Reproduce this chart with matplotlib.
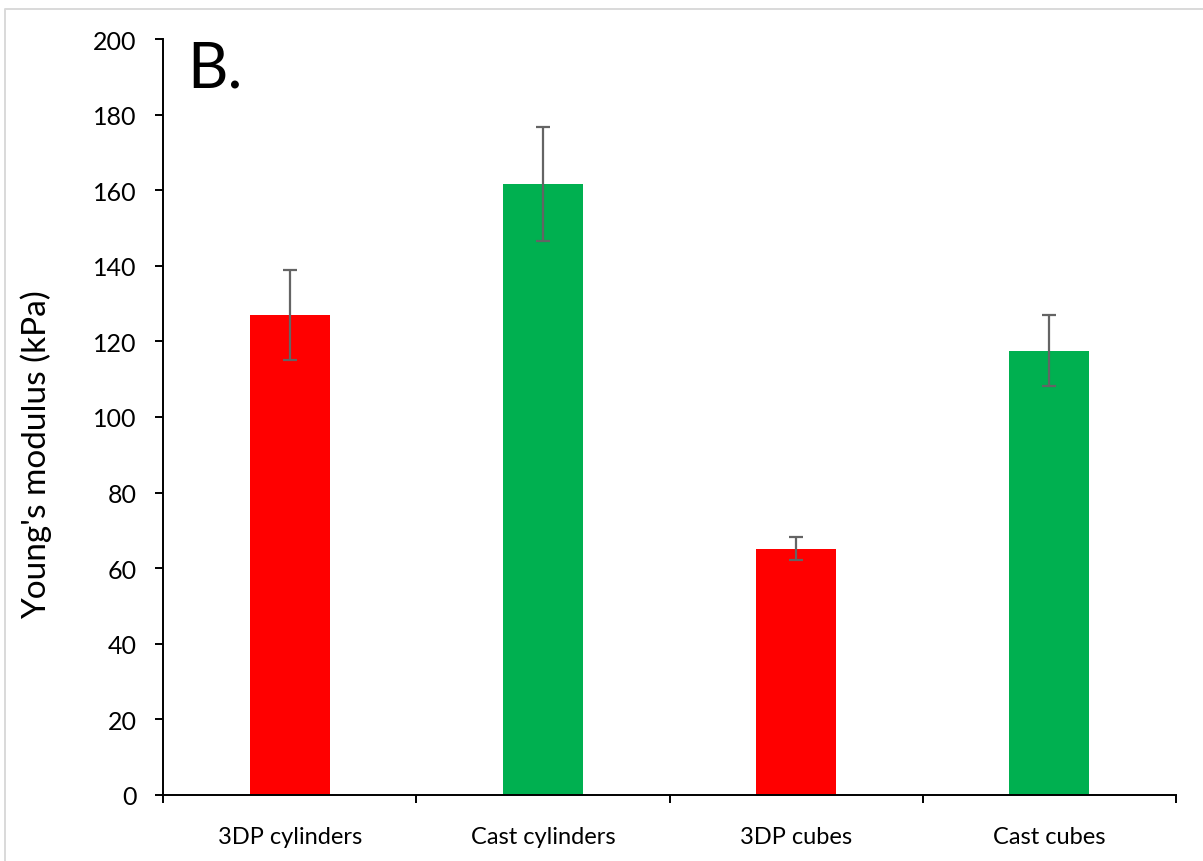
import matplotlib
matplotlib.use("Agg")
import matplotlib.pyplot as plt
from matplotlib.lines import Line2D
import numpy as np

plt.rcParams["font.family"] = ["Lato", "DejaVu Sans"]

# Young's modulus per sample type (mean, SD)
samples = ["3DP cylinders", "Cast cylinders", "3DP cubes", "Cast cubes"]
modulus = [127.0, 161.6, 65.2, 117.5]
modulus_sd = [12.0, 15.0, 3.0, 9.4]
bar_colors = ["#ff0000", "#00b050", "#ff0000", "#00b050"]

ink = "black"
err_grey = "#646464"

fig = plt.figure(figsize=(12.03, 8.62), dpi=100)
ax = fig.add_axes([163 / 1203, 66 / 862, (1176 - 163) / 1203, 756 / 862])

x = np.arange(len(samples))
ax.bar(x, modulus, width=0.316, color=bar_colors, zorder=2)
ax.errorbar(x, modulus, yerr=modulus_sd, fmt="none", ecolor=err_grey,
            elinewidth=1.6, capsize=4.7, capthick=1.6, zorder=3)

ax.set_xlim(-0.5, len(samples) - 0.5)
ax.set_ylim(0, 200)
ax.set_yticks(np.arange(0, 201, 20))

# category boundaries carry the tick marks, labels sit between them
ax.set_xticks(np.arange(-0.5, len(samples), 1.0))
ax.set_xticklabels([])
ax.set_xticks(x, minor=True)
ax.set_xticklabels(samples, minor=True)
ax.tick_params(axis="x", which="minor", length=0, pad=22, labelsize=17)
ax.tick_params(axis="x", which="major", length=6, width=1.4, direction="out")
ax.tick_params(axis="y", length=6, width=1.4, direction="out", pad=13,
               labelsize=18)

for side in ("top", "right"):
    ax.spines[side].set_visible(False)
for side in ("left", "bottom"):
    ax.spines[side].set_linewidth(1.4)
    ax.spines[side].set_color(ink)

fig.text(36 / 1203, 1 - 455 / 862, "Young's modulus (kPa)", rotation=90,
         ha="center", va="center", fontsize=24)
fig.text(187 / 1203, 1 - 88 / 862, "B.", ha="left", va="baseline",
         fontsize=45)

# thin frame along the top and left edge
fig.add_artist(Line2D([4.5 / 1203, 4.5 / 1203, 1.0], [0.0, 1 - 9.5 / 862, 1 - 9.5 / 862],
                      color="#d9d9d9", lw=1.4))

fig.savefig("out.png", dpi=100)
